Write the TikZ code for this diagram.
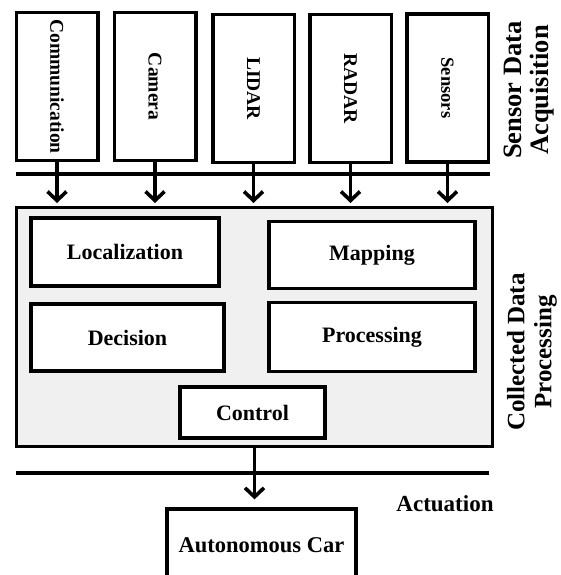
\documentclass[tikz,border=0pt]{standalone}
\usepackage{fontspec}
\setmainfont{Liberation Serif}
\usetikzlibrary{arrows.meta}
\definecolor{panel}{RGB}{240,240,240}
\begin{document}
\begin{tikzpicture}[x=1pt,y=-1pt,
  sensorbox/.style={draw, line width=3.5pt, fill=white, minimum width=81.5pt,
    minimum height=147.5pt, inner sep=0pt, font=\fontsize{19.5}{21}\selectfont\bfseries},
  procbox/.style={draw, line width=3.8pt, fill=white, inner sep=0pt,
    font=\fontsize{22}{24}\selectfont\bfseries},
  panelbox/.style={draw, line width=3pt, fill=panel, inner sep=0pt},
  bus/.style={line width=4pt},
  flow/.style={line width=3.6pt, -{Straight Barb[length=9pt,width=19pt]}},
  sidelabel/.style={rotate=90, align=center, inner sep=0pt,
    font=\fontsize{25}{27}\selectfont\bfseries},
]
\useasboundingbox (0,0) rectangle (561,575);

% sensor row
\node[sensorbox] (comm)  at (57,86.5)   {\rotatebox{-90}{Communication}};
\node[sensorbox] (cam)   at (155,86.5)  {\rotatebox{-90}{Camera}};
\node[sensorbox] (lidar) at (253.5,88.5) {\rotatebox{-90}{LIDAR}};
\node[sensorbox] (radar) at (350.5,88.5) {\rotatebox{-90}{RADAR}};
\node[sensorbox] (sens)  at (447.5,88)  {\rotatebox{-90}{\fontsize{18.5}{20}\selectfont Sensors}};

\node[sidelabel, font=\fontsize{26.5}{27}\selectfont\bfseries] (acq) at (529,90) {Sensor Data\\Acquisition};

% processing panel
\node[panelbox, minimum width=476pt, minimum height=239pt] (panel) at (254.5,327) {};
\node[procbox, minimum width=188pt, minimum height=68pt] (loc)  at (125,252)     {Localization};
\node[procbox, minimum width=206pt, minimum height=67pt] (map)  at (372,255)     {Mapping};
\node[procbox, minimum width=193pt, minimum height=67pt] (dec)  at (127.5,337.5) {Decision};
\node[procbox, minimum width=206pt, minimum height=69pt] (proc) at (372,337)     {Processing};
\node[procbox, minimum width=145pt, minimum height=51pt] (ctrl) at (252.5,412.5) {Control};

\node[sidelabel] (cdp) at (532,352) {Collected Data\\Processing};

% actuation
\node[inner sep=0pt, font=\fontsize{23}{25}\selectfont\bfseries] (act) at (445,504) {Actuation};
\node[procbox, minimum width=189.5pt, minimum height=72.5pt,
  font=\fontsize{22.5}{24}\selectfont\bfseries] (car) at (261.5,545) {Autonomous Car};

% buses
\coordinate (busAL) at (16,174);
\coordinate (busAR) at (490,174);
\coordinate (busBL) at (16,473);
\coordinate (busBR) at (489,473);
\draw[bus] (busAL) -- (busAR);
\draw[bus] (busBL) -- (busBR);

% data flow
\foreach \s in {comm,cam,lidar,radar,sens}
  \draw[flow, shorten >=3pt] (\s.south) -- (\s.south |- panel.north);
\draw[flow, shorten >=7.5pt] (panel.south) -- (panel.south |- car.north);
\end{tikzpicture}
\end{document}
